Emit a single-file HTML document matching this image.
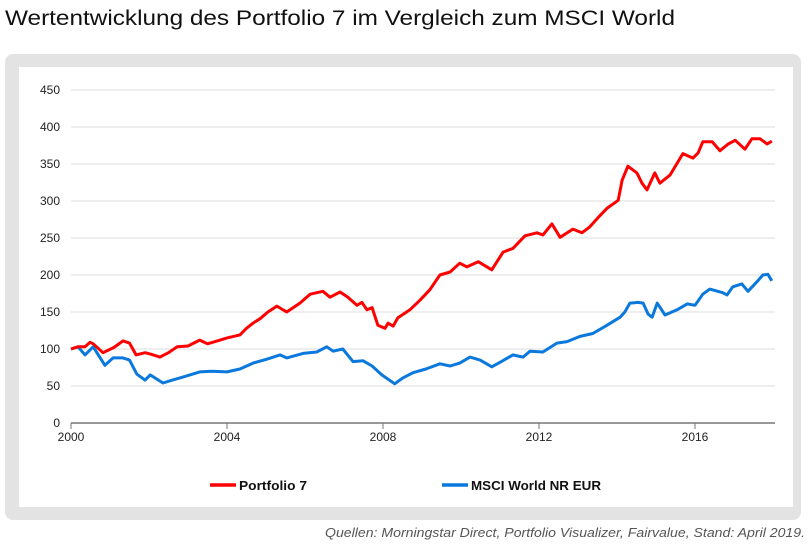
<!DOCTYPE html>
<html><head><meta charset="utf-8"><style>
body{margin:0;background:#fff;width:809px;height:542px;overflow:hidden;font-family:"Liberation Sans",sans-serif}
</style></head><body>
<svg id="chart" width="809" height="542" viewBox="0 0 809 542" xmlns="http://www.w3.org/2000/svg">
<text x="5" y="25" font-size="21" fill="#111" textLength="670" lengthAdjust="spacingAndGlyphs">Wertentwicklung des Portfolio 7 im Vergleich zum MSCI World</text>
<rect x="5" y="54" width="796" height="466" rx="8" fill="#e3e3e3"/>
<rect x="19" y="67" width="774" height="440" fill="#fff"/>
<g id="grid"></g><g id="axes"></g><g id="series"></g>
<g>
<line x1="210" y1="485" x2="236" y2="485" stroke="#ff0000" stroke-width="3.5"/>
<text x="239" y="490" font-size="13" font-weight="bold" fill="#111" textLength="68" lengthAdjust="spacingAndGlyphs">Portfolio 7</text>
<line x1="442" y1="485" x2="468" y2="485" stroke="#0a78dc" stroke-width="3.5"/>
<text x="471" y="490" font-size="13" font-weight="bold" fill="#111" textLength="130" lengthAdjust="spacingAndGlyphs">MSCI World NR EUR</text>
</g>
<text x="805" y="537" text-anchor="end" font-size="13" font-style="italic" fill="#555" textLength="480" lengthAdjust="spacingAndGlyphs">Quellen: Morningstar Direct, Portfolio Visualizer, Fairvalue, Stand: April 2019.</text>
</svg>
<script>
const yTicks=[0,50,100,150,200,250,300,350,400,450];
const xTicks=[2000,2004,2008,2012,2016];
const pYears=[0,0.18,0.36,0.49,0.57,0.82,1.1,1.33,1.5,1.67,1.9,2.05,2.28,2.5,2.72,3.0,3.3,3.5,3.75,4.0,4.33,4.5,4.67,4.85,5.05,5.28,5.53,5.87,6.13,6.46,6.64,6.9,7.1,7.33,7.46,7.59,7.72,7.87,8.05,8.13,8.26,8.38,8.69,8.95,9.2,9.46,9.72,9.97,10.15,10.44,10.79,11.08,11.33,11.64,11.95,12.1,12.33,12.54,12.87,13.1,13.3,13.56,13.74,14.03,14.13,14.28,14.51,14.64,14.77,14.97,15.1,15.36,15.69,15.95,16.08,16.2,16.44,16.64,16.85,17.03,17.28,17.46,17.67,17.85,17.97];
const pVals=[100,103,103,109,107,95,102,111,108,92,95,93,89,95,103,104,112,107,111,115,119,128,135,141,150,158,150,162,174,178,170,177,170,159,163,153,156,132,128,135,131,142,153,166,180,200,204,216,211,218,207,231,236,253,257,254,269,251,262,257,265,280,290,301,328,347,338,324,315,338,324,335,364,358,365,380,380,368,377,382,370,384,384,377,381];
const mYears=[0,0.18,0.36,0.57,0.87,1.08,1.33,1.5,1.69,1.9,2.03,2.36,2.6,2.87,3.3,3.6,4.0,4.33,4.67,5.0,5.36,5.53,5.95,6.3,6.56,6.72,6.97,7.23,7.49,7.72,7.97,8.3,8.51,8.77,9.1,9.46,9.72,9.97,10.23,10.49,10.79,11.0,11.33,11.59,11.77,12.1,12.46,12.72,13.05,13.38,13.74,14.08,14.2,14.33,14.54,14.67,14.8,14.9,15.03,15.23,15.54,15.8,16.0,16.2,16.38,16.72,16.82,16.97,17.2,17.36,17.59,17.74,17.87,17.97];
const mVals=[100,103,92,103,78,88,88,85,66,58,65,54,58,62,69,70,69,73,81,86,92,88,94,96,103,97,100,83,84,77,65,53,61,68,73,80,77,81,89,85,76,82,92,89,97,96,108,110,117,121,132,143,150,162,163,162,147,143,162,146,153,161,159,174,181,176,173,184,188,178,191,200,201,192];
const X0=71,XS=39,Y0=423,YS=0.74;
const xs=y=>X0+y*XS, ysc=v=>Y0-v*YS;
const NS="http://www.w3.org/2000/svg";
function mk(t,a,p){const e=document.createElementNS(NS,t);for(const k in a)e.setAttribute(k,a[k]);p.appendChild(e);return e;}
const grid=document.getElementById('grid'),axes=document.getElementById('axes'),ser=document.getElementById('series');
yTicks.forEach(v=>{
 if(v>0){const l=mk('line',{x1:X0,x2:775,y1:ysc(v),y2:ysc(v),stroke:'#dedede','stroke-width':1},grid);
 
 }
 const t=mk('text',{x:60,y:ysc(v)+4,'text-anchor':'end','font-size':12,fill:'#222'},axes);t.textContent=v;
 
 
});
const ax=mk('line',{x1:X0,x2:775,y1:Y0,y2:Y0,stroke:'#777','stroke-width':1.5},axes);


xTicks.forEach(yr=>{
 const x=xs(yr-2000);
 mk('line',{x1:x,x2:x,y1:Y0,y2:Y0+6,stroke:'#777','stroke-width':1},axes);
 const t=mk('text',{x:x,y:Y0+18,'text-anchor':'middle','font-size':12,fill:'#222'},axes);t.textContent=yr;
 
 
});
function line(yrs,vals,col,name){
 const d=yrs.map((y,i)=>(i?'L':'M')+xs(y).toFixed(1)+' '+ysc(vals[i]).toFixed(1)).join(' ');
 const p=mk('path',{d:d,fill:'none',stroke:col,'stroke-width':3,'stroke-linejoin':'round'},ser);
 
 
}
line(mYears,mVals,'#0a78dc','msci-world-line');
line(pYears,pVals,'#ff0000','portfolio-7-line');
</script>
</body></html>
